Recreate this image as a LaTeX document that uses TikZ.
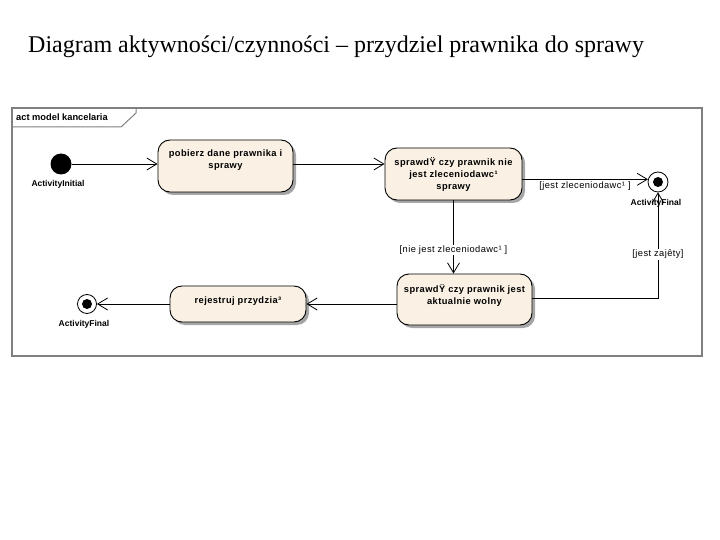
\documentclass[tikz,border=0pt]{standalone}
\usepackage{fontspec}
\setmainfont{Liberation Serif}
\newfontfamily\uisans{Liberation Sans}
\newfontfamily\actfont[LetterSpace=4.5]{Liberation Sans}
\usetikzlibrary{arrows.meta,shadows,calc}
\definecolor{actfill}{RGB}{250,241,228}
\definecolor{framegray}{RGB}{128,128,128}
\tikzset{
  action/.style={draw=black, line width=0.9pt, rounded corners=12pt, fill=actfill,
    drop shadow={shadow xshift=3pt, shadow yshift=-3pt, fill=black!35, opacity=1},
    inner sep=0pt},
  acttext/.style={anchor=north, align=center, inner sep=0pt,
    font=\actfont\bfseries\fontsize{9.3}{12}\selectfont},
  guard/.style={fill=white, inner sep=1pt, font=\actfont\fontsize{9.3}{10}\selectfont},
  nodename/.style={inner sep=0pt, font=\uisans\bfseries\fontsize{8.5}{10}\selectfont},
  flow/.style={draw=black, line width=0.8pt, -{Straight Barb[length=10pt,width=12pt,line width=0.8pt]}},
}
\begin{document}
\begin{tikzpicture}[x=1pt,y=-1pt]
\useasboundingbox (0,0) rectangle (720,540);
% title
\node[anchor=base west, inner sep=0pt, font=\fontsize{24}{28}\selectfont] (title) at (28,53)
  {Diagram aktywności/czynności – przydziel prawnika do sprawy};
% frame
\draw[framegray, line width=1.6pt] (12,108) rectangle (702,356);
\draw[framegray, line width=1pt] (12,127) -- (121,127) -- (136,113) -- (136,108);
\node[anchor=west, inner sep=0pt, font=\uisans\bfseries\fontsize{9.3}{10}\selectfont] (framelabel) at (16,117) {act model kancelaria};
% initial
\node[circle, fill=black, minimum size=21pt, inner sep=0pt] (init) at (61,164) {};
\node[nodename] (initl) at (58,184) {ActivityInitial};
% actions
\node[action, minimum width=135pt, minimum height=52pt] (a1) at (225.5,166) {};
\node[acttext] (a1t) at (225.5,150) {pobierz dane prawnika i\\sprawy};
\node[action, minimum width=137pt, minimum height=52pt] (a2) at (453.5,174) {};
\node[acttext] (a2t) at (453.5,157) {sprawdŸ czy prawnik nie\\jest zleceniodawc¹\\sprawy};
\node[action, minimum width=135pt, minimum height=51pt] (a3) at (464.5,299.5) {};
\node[acttext] (a3t) at (464.5,284) {sprawdŸ czy prawnik jest\\aktualnie wolny};
\node[action, minimum width=136pt, minimum height=36pt] (a4) at (238,304) {};
\node[acttext] (a4t) at (238,297) {rejestruj przydzia³};
% finals
\node[circle, draw=black, fill=white, line width=0.8pt, minimum size=20pt, inner sep=0pt] (f1) at (658,182) {};
\node[circle, fill=black, minimum size=10pt, inner sep=0pt] (f1c) at (658,182) {};
\node[circle, draw=black, fill=white, line width=0.8pt, minimum size=19pt, inner sep=0pt] (f2) at (87,304) {};
\node[circle, fill=black, minimum size=10pt, inner sep=0pt] (f2c) at (87,304) {};
% edges
\draw[flow] (init.east) -- (init.east -| a1.west);
\draw[flow] ([yshift=2pt]a1.east) -- ([yshift=2pt]a1.east -| a2.west);
\draw[flow] (f1.165 -| a2.east) -- (f1.165);
\draw[flow] (a2.south) -- (a2.south |- a3.north) node[guard, pos=0.68] (g2) {[nie jest zleceniodawc¹ ]};
\draw[flow] ([yshift=1.5pt]a3.east) -| (f1.south) node[guard, pos=0.707] (g3) {[jest zajêty]};
\draw[flow] (a4.east -| a3.west) -- (a4.east);
\draw[flow] (a4.west) -- (f2.east);
\node[guard, fill=none, inner sep=0pt] (g1) at (585,186) {[jest zleceniodawc¹ ]};
\node[nodename] (f1l) at (656,203) {ActivityFinal};
\node[nodename] (f2l) at (84,324) {ActivityFinal};
\end{tikzpicture}
\end{document}
